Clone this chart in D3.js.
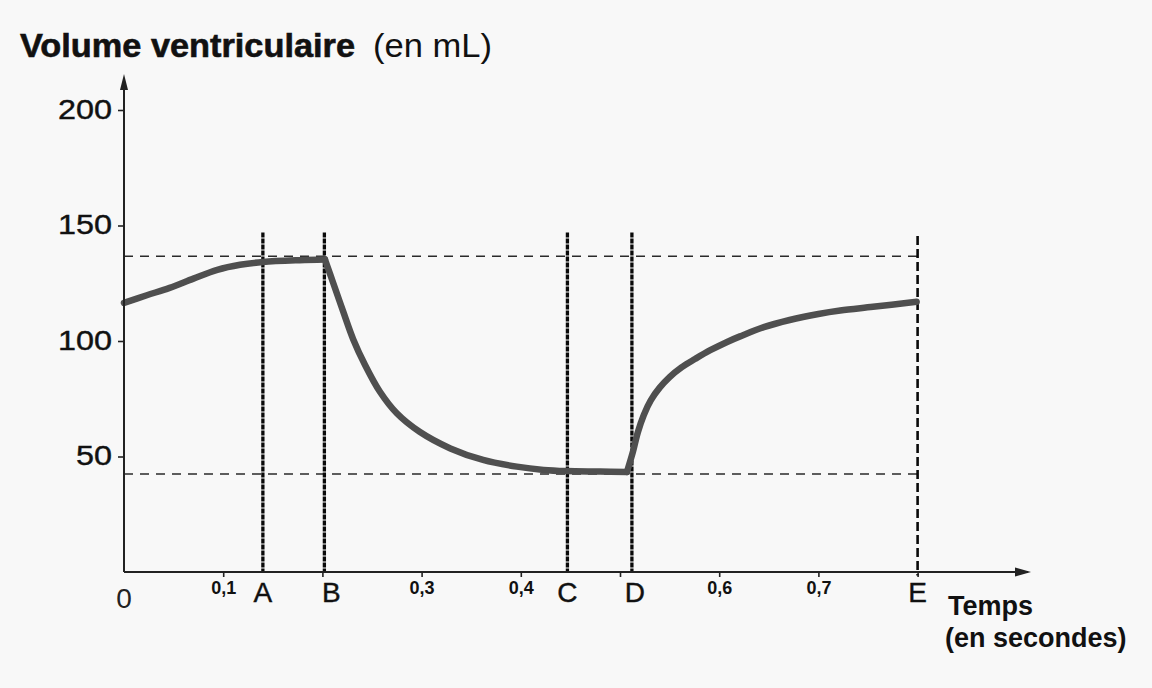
<!DOCTYPE html>
<html>
<head>
<meta charset="utf-8">
<script src="https://cdn.jsdelivr.net/npm/d3@7"></script>
<style>
  html, body { margin: 0; padding: 0; background: #f8f8f8; }
  svg { display: block; }
</style>
</head>
<body>
<svg id="chart" width="1152" height="688"></svg>
<script>
// ---- Data ----
const yTicks = [50, 100, 150, 200];
const xTicks = [0.1, 0.2, 0.3, 0.4, 0.5, 0.6, 0.7, 0.8];
const xLabelTicks = [0.1, 0.3, 0.4, 0.6, 0.7];
const phaseLetters = ["A", "B", "C", "D", "E"];
const phaseTimes = [0.14, 0.202, 0.447, 0.512, 0.8];
const refVolumes = [136.7, 42.4];          // horizontal dashed references (mL)

// curve: time (s) / volume (mL), in three pieces
const fillingTimes = [0, 0.023, 0.046, 0.07, 0.094, 0.117, 0.14, 0.177, 0.2026];
const fillingVols  = [116.5, 119.8, 123, 127, 130.8, 133, 134.2, 135, 135.3];
const ejectTimes = [0.2026, 0.211, 0.221, 0.231, 0.243, 0.258, 0.275, 0.298, 0.329, 0.362, 0.396, 0.423, 0.446, 0.48, 0.507];
const ejectVols  = [135.3, 125, 112.7, 100.8, 89.6, 78, 68.7, 60.7, 53.5, 48.5, 45.6, 44.2, 43.7, 43.5, 43.3];
const refillTimes = [0.507, 0.513, 0.518, 0.524, 0.531, 0.54, 0.55, 0.562, 0.576, 0.591, 0.608, 0.621, 0.645, 0.671, 0.7, 0.722, 0.755, 0.799];
const refillVols  = [43.3, 52, 60.5, 68, 74.3, 79.8, 84.4, 88.6, 92.3, 96, 99.6, 102, 106, 109.1, 111.7, 113.2, 114.8, 117];

const titleBold = "Volume ventriculaire";
const titleUnit = "(en mL)";
const xTitle1 = "Temps";
const xTitle2 = "(en secondes)";

// ---- Drawing ----
const svg = d3.select("#chart");
svg.append("rect").attr("width", 1152).attr("height", 688).attr("fill", "#f8f8f8");

const x = d3.scaleLinear().domain([0, 0.8]).range([124, 917.6]);
const y = d3.scaleLinear().domain([0, 200]).range([572, 110]);
const FONT = "'Liberation Sans', Arial, Helvetica, sans-serif";

// horizontal dashed lines
svg.selectAll("line.href").data(refVolumes).enter().append("line")
  .attr("x1", x(0)).attr("x2", x(0.8))
  .attr("y1", d => y(d)).attr("y2", d => y(d))
  .attr("stroke", "#2a2a2a").attr("stroke-width", 1.5)
  .attr("stroke-dasharray", "9,7");

// vertical phase lines
const vTop = [147, 147, 147, 147, 145.5];
svg.selectAll("line.vph").data(phaseTimes).enter().append("line")
  .attr("x1", d => x(d)).attr("x2", d => x(d))
  .attr("y1", (d, i) => y(vTop[i])).attr("y2", (d, i) => i === 4 ? y(-1.5) : y(0))
  .attr("stroke", "#0a0a0a")
  .attr("stroke-width", (d, i) => i === 4 ? 2.6 : 3.3)
  .attr("stroke-dasharray", (d, i) => i === 4 ? "9,4" : "5,1");

// curve
const line = d3.line().x(d => x(d[0])).y(d => y(d[1])).curve(d3.curveCatmullRom.alpha(0.5));
[[fillingTimes, fillingVols], [ejectTimes, ejectVols], [refillTimes, refillVols]].forEach(([t, v]) => {
  svg.append("path")
    .datum(t.map((tt, i) => [tt, v[i]]))
    .attr("d", line)
    .attr("fill", "none")
    .attr("stroke", "#4f4f4f")
    .attr("stroke-width", 6.5)
    .attr("stroke-linejoin", "round")
    .attr("stroke-linecap", "round");
});

// axes lines with arrows
const axisCol = "#222";
svg.append("line").attr("x1", x(0)).attr("x2", 1028).attr("y1", y(0)).attr("y2", y(0))
  .attr("stroke", axisCol).attr("stroke-width", 2);
svg.append("path").attr("d", `M1031,${y(0)} L1015,${y(0) - 4.5} L1015,${y(0) + 4.5} Z`).attr("fill", axisCol);
svg.append("line").attr("x1", x(0)).attr("x2", x(0)).attr("y1", y(0)).attr("y2", 78)
  .attr("stroke", axisCol).attr("stroke-width", 2);
svg.append("path").attr("d", `M${x(0)},74 L${x(0) - 4},90 L${x(0) + 4},90 Z`).attr("fill", axisCol);

// y axis ticks + labels
const yAxis = svg.append("g").attr("transform", `translate(${x(0)},0)`)
  .call(d3.axisLeft(y).tickValues(yTicks).tickSize(6).tickPadding(6).tickFormat(d3.format("d")));
yAxis.select(".domain").remove();
yAxis.selectAll(".tick line").attr("stroke", axisCol).attr("stroke-width", 1.6);
yAxis.selectAll(".tick text")
  .attr("font-family", FONT).attr("font-size", 27).attr("fill", "#111")
  .attr("stroke", "#111").attr("stroke-width", 0.4)
  .attr("dy", "0.3em")
  .attr("textLength", d => String(d).length * 18)
  .attr("lengthAdjust", "spacingAndGlyphs");

// x axis ticks
const xAxis = svg.append("g").attr("transform", `translate(0,${y(0)})`)
  .call(d3.axisBottom(x).tickValues(xTicks).tickSize(5).tickFormat(""));
xAxis.select(".domain").remove();
xAxis.selectAll(".tick line").attr("stroke", axisCol).attr("stroke-width", 1.6);

const xLab = svg.append("g").attr("transform", `translate(0,${y(0)})`)
  .call(d3.axisBottom(x).tickValues(xLabelTicks).tickSize(0).tickPadding(9)
    .tickFormat(d => d.toFixed(1).replace(".", ",")));
xLab.select(".domain").remove();
xLab.selectAll(".tick text")
  .attr("font-family", FONT).attr("font-size", 18).attr("font-weight", "bold").attr("fill", "#111");

// origin label
svg.append("text").attr("x", x(0)).attr("y", 608).attr("text-anchor", "middle")
  .attr("font-family", FONT).attr("font-size", 28).attr("fill", "#222").text("0");

// phase letters
const letterDx = [0, 7, 0, 3, 0];
svg.selectAll("text.ph").data(phaseLetters).enter().append("text")
  .attr("x", (d, i) => x(phaseTimes[i]) + letterDx[i]).attr("y", 602)
  .attr("text-anchor", "middle")
  .attr("font-family", FONT).attr("font-size", 28).attr("fill", "#111")
  .attr("stroke", "#111").attr("stroke-width", 0.4)
  .text(d => d);

// titles
svg.append("text").attr("x", 20).attr("y", 57)
  .attr("font-family", FONT).attr("font-size", 33).attr("font-weight", "bold").attr("fill", "#111")
  .attr("stroke", "#111").attr("stroke-width", 0.6)
  .attr("textLength", 335).attr("lengthAdjust", "spacingAndGlyphs")
  .text(titleBold);
svg.append("text").attr("x", 373).attr("y", 57)
  .attr("font-family", FONT).attr("font-size", 33).attr("fill", "#111")
  .attr("textLength", 119).attr("lengthAdjust", "spacingAndGlyphs")
  .text(titleUnit);

svg.append("text").attr("x", 948).attr("y", 615)
  .attr("font-family", FONT).attr("font-size", 27).attr("font-weight", "bold").attr("fill", "#111")
  .text(xTitle1);
svg.append("text").attr("x", 945).attr("y", 647)
  .attr("font-family", FONT).attr("font-size", 27).attr("font-weight", "bold").attr("fill", "#111")
  .text(xTitle2);
</script>
</body>
</html>
